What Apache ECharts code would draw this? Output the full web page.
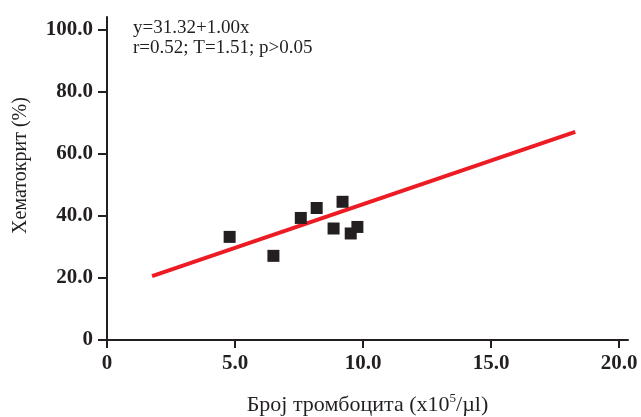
<!DOCTYPE html>
<html>
<head>
<meta charset="utf-8">
<script src="https://cdn.jsdelivr.net/npm/echarts@6/dist/echarts.min.js"></script>
<style>
html,body{margin:0;padding:0;background:#fff;}
#chart{width:641px;height:417px;}
</style>
</head>
<body>
<div id="chart"></div>
<script>
// тачке (број тромбоцита, хематокрит)
var plateletX=[4.79,6.50,7.57,8.19,8.85,9.20,9.52,9.78];
var hematocritY=[33.2,27.1,39.3,42.5,35.9,44.5,34.3,36.4];
// крајеви праве регресије
var fitX=[1.76,18.29];
var fitY=[20.6,67.0];
var xTicks=[0,5,10,15,20];
var yTicks=[0,20,40,60,80,100];
var statLines=['y=31.32+1.00x','r=0.52; T=1.51; p>0.05'];

var ink='#231f20';
var serif='"Liberation Serif","Times New Roman",serif';

function fmt(v){
    return v===0?'0':v.toFixed(1);
};

function drawChart(id){
    var myChart=echarts.init(document.getElementById(id));

    var pts=[];
    for(var i=0;i<plateletX.length;i++){
        pts.push([plateletX[i],hematocritY[i]]);
    };
    var fit=[];
    for(var j=0;j<fitX.length;j++){
        fit.push([fitX[j],fitY[j]]);
    };

    var option={
        backgroundColor:'#fff',
        animation:false,
        title:{
            text:statLines.join('\n'),
            left:133,
            top:18,
            padding:0,
            textStyle:{
                color:ink,
                fontFamily:serif,
                fontWeight:'normal',
                fontSize:19,
                lineHeight:20
            }
        },
        grid:{left:107,right:13,top:17,bottom:77,outerBoundsMode:'none'},
        xAxis:{
            type:'value',
            min:0,
            max:20.35,
            name:'{a|Број тромбоцита (x10}{s|5}{a|/µl)}',
            nameLocation:'middle',
            nameGap:52,
            nameTextStyle:{
                rich:{
                    a:{color:ink,fontFamily:serif,fontSize:22,verticalAlign:'bottom'},
                    s:{color:ink,fontFamily:serif,fontSize:13,padding:[0,0,11,0],verticalAlign:'bottom'}
                }
            },
            axisLine:{lineStyle:{color:ink,width:2}},
            axisTick:{length:8,lineStyle:{color:ink,width:2},customValues:xTicks},
            axisLabel:{
                customValues:xTicks,
                margin:13,
                color:ink,
                fontFamily:serif,
                fontWeight:'bold',
                fontSize:21,
                formatter:fmt
            },
            splitLine:{show:false}
        },
        yAxis:{
            type:'value',
            min:0,
            max:104,
            name:'Хематокрит (%)',
            nameLocation:'middle',
            nameGap:76,
            nameTextStyle:{
                color:ink,
                fontFamily:serif,
                fontSize:20,
                padding:[0,0,0,26]
            },
            axisLine:{lineStyle:{color:ink,width:2}},
            axisTick:{length:9,lineStyle:{color:ink,width:2},customValues:yTicks},
            axisLabel:{
                customValues:yTicks,
                margin:14,
                color:ink,
                fontFamily:serif,
                fontWeight:'bold',
                fontSize:21,
                formatter:fmt
            },
            splitLine:{show:false}
        },
        series:[
            {
                type:'line',
                data:fit,
                symbol:'none',
                lineStyle:{color:'#ed1c24',width:4},
                z:3
            },
            {
                type:'scatter',
                data:pts,
                symbol:'rect',
                symbolSize:12,
                itemStyle:{color:ink,opacity:1},
                z:4
            }
        ]
    };

    myChart.setOption(option);
};

drawChart('chart');
</script>
</body>
</html>
